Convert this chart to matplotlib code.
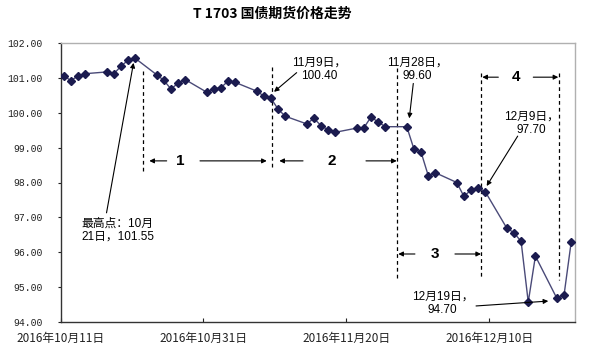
import matplotlib
matplotlib.use("Agg")
import matplotlib.pyplot as plt
import matplotlib.dates as mdates
import pandas as pd

plt.rcParams["font.family"] = ["Liberation Sans", "Noto Sans CJK SC", "DejaVu Sans"]

TITLE = "T 1703 国债期货价格走势"

dates = [
    "2016-10-11", "2016-10-12", "2016-10-13", "2016-10-14",
    "2016-10-17", "2016-10-18", "2016-10-19", "2016-10-20", "2016-10-21",
    "2016-10-24", "2016-10-25", "2016-10-26", "2016-10-27", "2016-10-28",
    "2016-10-31", "2016-11-01", "2016-11-02", "2016-11-03", "2016-11-04",
    "2016-11-07", "2016-11-08", "2016-11-09", "2016-11-10", "2016-11-11",
    "2016-11-14", "2016-11-15", "2016-11-16", "2016-11-17", "2016-11-18",
    "2016-11-21", "2016-11-22", "2016-11-23", "2016-11-24", "2016-11-25",
    "2016-11-28", "2016-11-29", "2016-11-30", "2016-12-01", "2016-12-02",
    "2016-12-05", "2016-12-06", "2016-12-07", "2016-12-08", "2016-12-09",
    "2016-12-12", "2016-12-13", "2016-12-14", "2016-12-15", "2016-12-16",
    "2016-12-19", "2016-12-20", "2016-12-21",
]
prices = [
    101.06, 100.92, 101.06, 101.12,
    101.17, 101.12, 101.33, 101.51, 101.56,
    101.09, 100.93, 100.68, 100.85, 100.95,
    100.59, 100.68, 100.72, 100.91, 100.87,
    100.62, 100.48, 100.41, 100.10, 99.90,
    99.68, 99.84, 99.63, 99.51, 99.44,
    99.56, 99.57, 99.88, 99.73, 99.60,
    99.60, 98.96, 98.87, 98.20, 98.28,
    98.00, 97.60, 97.79, 97.85, 97.73,
    96.69, 96.56, 96.31, 94.57, 95.89,
    94.68, 94.76, 96.28,
]

tick_dates = ["2016-10-11", "2016-10-31", "2016-11-20", "2016-12-10"]
tick_labels = ["2016年10月11日", "2016年10月31日", "2016年11月20日", "2016年12月10日"]
y_ticks = [94, 95, 96, 97, 98, 99, 100, 101, 102]

START = pd.Timestamp("2016-10-11")
END = pd.Timestamp("2016-12-22")


def dx(days):
    # position measured in days from the axis start
    return mdates.date2num(START + pd.Timedelta(days=days))


# dashed period dividers: (day offset, y from, y to)
dividers = [
    (11.6, 101.21, 98.31),
    (29.64, 101.30, 98.45),
    (47.13, 101.27, 95.23),
    (58.89, 101.15, 95.23),
    (69.8, 101.15, 95.20),
]

# period labels: (label, y, left head, left tail, text x, right tail, right head)
periods = [
    ("1", 98.62, 12.43, 14.86, 16.72, 19.52, 28.86),
    ("2", 98.62, 30.62, 33.94, 37.95, 42.75, 47.05),
    ("3", 95.95, 47.27, 49.6, 52.4, 55.2, 58.85),
    ("4", 101.02, 59.03, 61.27, 63.74, 66.16, 69.66),
]

# callouts: (text, text x, text y, tail x, tail y, head x, head y, align)
callouts = [
    ("最高点：10月\n21日，101.55", 2.96, 96.63, 6.44, 97.13, 10.22, 101.43, "left"),
    ("11月9日，\n100.40", 36.17, 101.25, 33.05, 101.15, 29.88, 100.60, "center"),
    ("11月28日，\n99.60", 49.96, 101.25, 49.37, 100.84, 48.81, 99.84, "center"),
    ("12月9日，\n97.70", 65.88, 99.70, 63.98, 99.33, 59.64, 97.90, "center"),
    ("12月19日，\n94.70", 53.5, 94.54, 58.15, 94.46, 68.26, 94.60, "center"),
]

fig = plt.figure(figsize=(5.93, 3.57), dpi=100)
ax = fig.add_axes([60.5 / 593, 1 - 322 / 357, (575 - 60.5) / 593, (322 - 43) / 357])

# points sit in the middle of their day, like an Excel date axis
x = [mdates.date2num(pd.Timestamp(d) + pd.Timedelta(hours=11)) for d in dates]
ax.plot(x, prices, color="#4a4a78", lw=1.0, marker="D", markersize=3.6,
        markerfacecolor="#1b1b4f", markeredgecolor="#1b1b4f", zorder=3)

ax.set_xlim(mdates.date2num(START), mdates.date2num(END))
ax.set_ylim(94, 102)
ax.set_yticks(y_ticks)
ax.set_yticklabels([f"{v:.2f}" for v in y_ticks], family=["Liberation Mono", "DejaVu Sans Mono"],
                   fontsize=7)
ax.set_xticks([mdates.date2num(pd.Timestamp(d)) for d in tick_dates])
ax.set_xticklabels(tick_labels, fontsize=8.5, family=["Noto Sans CJK SC"])
ax.tick_params(axis="y", direction="out", length=2, pad=11, colors="#222222")
ax.tick_params(axis="x", direction="in", length=3, pad=7, colors="#222222")

for side in ("left", "bottom"):
    ax.spines[side].set_color("#333333")
    ax.spines[side].set_linewidth(1.0)
for side in ("top", "right"):
    ax.spines[side].set_color("#b0b0b0")
    ax.spines[side].set_linewidth(1.0)

for d, y0, y1 in dividers:
    ax.plot([dx(d), dx(d)], [y0, y1], color="black", lw=0.9, ls=(0, (3, 2.5)), zorder=2)

arrow = dict(arrowstyle="-|>", color="black", lw=0.8, mutation_scale=7, shrinkA=0, shrinkB=0)

for label, y, lh, lt, tx, rt, rh in periods:
    ax.annotate("", xy=(dx(lh), y), xytext=(dx(lt), y), arrowprops=arrow)
    ax.annotate("", xy=(dx(rh), y), xytext=(dx(rt), y), arrowprops=arrow)
    ax.text(dx(tx), y, label, ha="center", va="center", fontsize=11, fontweight="bold")

for text, tx, ty, ax0, ay0, hx, hy, align in callouts:
    ax.annotate("", xy=(dx(hx), hy), xytext=(dx(ax0), ay0), arrowprops=arrow)
    ax.text(dx(tx), ty, text, ha=align, va="center", multialignment=align,
            fontsize=8.5, linespacing=1.1)

fig.text(272 / 593, 1 - 14 / 357, TITLE, ha="center", va="center", fontsize=10,
         fontweight="bold", family=["Noto Sans CJK SC"])

fig.savefig("out.png", dpi=100, facecolor="white")
